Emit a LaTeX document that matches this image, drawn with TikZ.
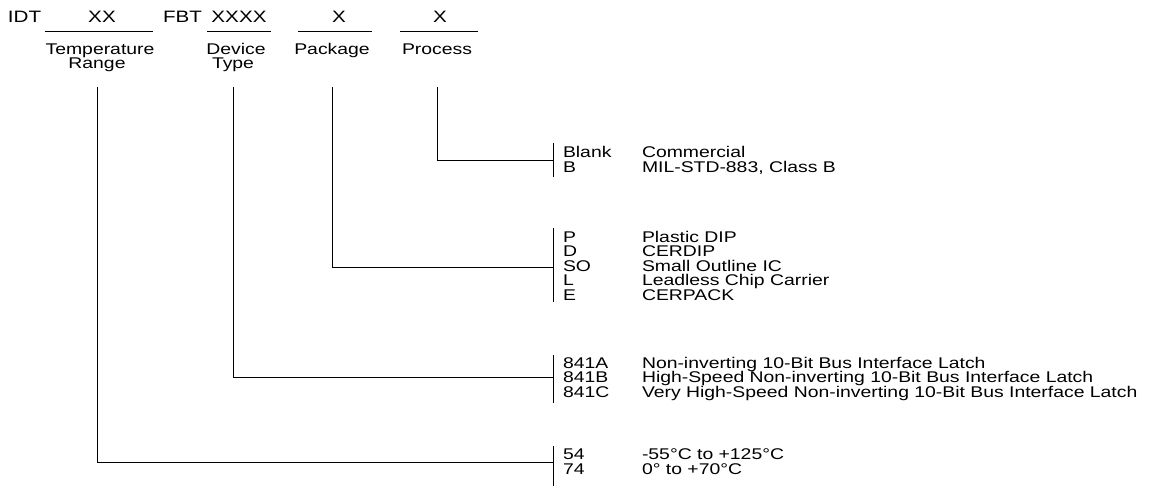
\documentclass[tikz,border=0pt]{standalone}
\usepackage{fontspec}
\setmainfont{Liberation Sans}[FakeStretch=1.25]
\begin{document}
\begin{tikzpicture}[x=1pt,y=-1pt,
  every node/.style={inner sep=0pt,outer sep=0pt},
  lbl/.style={font=\fontsize{15.5}{15.5}\selectfont,anchor=base west},
  clbl/.style={font=\fontsize{15.5}{15.5}\selectfont,anchor=base},
  toplbl/.style={font=\fontsize{16.5}{16.5}\selectfont,anchor=base},
  wire/.style={line width=1pt}]
\useasboundingbox (0,0) rectangle (1155,490);
% top row
\node[toplbl,anchor=base west] (idt) at (8,22) {IDT};
\node[toplbl] (xx) at (102,22) {XX};
\node[toplbl,anchor=base west] (fbt) at (163,22) {FBT};
\node[toplbl] (xxxx) at (239,22) {XXXX};
\node[toplbl] (xp) at (339,22) {X};
\node[toplbl] (xq) at (440,22) {X};
\draw[wire] (45,31) -- (153,31);
\draw[wire] (207,31) -- (271,31);
\draw[wire] (298,31) -- (372,31);
\draw[wire] (400,31) -- (478,31);
% field labels
\node[clbl] (temp1) at (100,54) {Temperature};
\node[clbl] (temp2) at (97,68) {Range};
\node[clbl] (dev1) at (236,54) {Device};
\node[clbl] (dev2) at (233,68) {Type};
\node[clbl] (pkg) at (332,54) {Package};
\node[clbl] (proc) at (437,54) {Process};
% bracket coordinates
\coordinate (ctop) at (0,87);
\coordinate (bP) at (553,160);
\coordinate (bK) at (553,267);
\coordinate (bD) at (553,377);
\coordinate (bT) at (553,462);
% connectors
\draw[wire] (proc.south |- ctop) |- (bP);
\draw[wire] (pkg.south |- ctop) |- (bK);
\draw[wire] (dev2.south |- ctop) |- (bD);
\draw[wire] (temp2.south |- ctop) |- (bT);
% brackets
\draw[wire] (553,143) -- (553,177);
\draw[wire] (553,228) -- (553,302);
\draw[wire] (553,355) -- (553,403);
\draw[wire] (553,446) -- (553,486);
% process
\node[lbl] (c1) at (563,157) {Blank};
\node[lbl] (d1) at (642,157) {Commercial};
\node[lbl] (c2) at (563,172) {B};
\node[lbl] (d2) at (642,172) {MIL-STD-883, Class B};
% package
\node[lbl] (c3) at (563,242) {P};
\node[lbl] (d3) at (642,242) {Plastic DIP};
\node[lbl] (c4) at (563,256.5) {D};
\node[lbl] (d4) at (642,256.5) {CERDIP};
\node[lbl] (c5) at (563,271) {SO};
\node[lbl] (d5) at (642,271) {Small Outline IC};
\node[lbl] (c6) at (563,285.5) {L};
\node[lbl] (d6) at (642,285.5) {Leadless Chip Carrier};
\node[lbl] (c7) at (563,300) {E};
\node[lbl] (d7) at (642,300) {CERPACK};
% device
\node[lbl] (c8) at (563,368) {841A};
\node[lbl] (d8) at (642,368) {Non-inverting 10-Bit Bus Interface Latch};
\node[lbl] (c9) at (563,382.5) {841B};
\node[lbl] (d9) at (642,382.5) {High-Speed Non-inverting 10-Bit Bus Interface Latch};
\node[lbl] (c10) at (563,397) {841C};
\node[lbl] (d10) at (642,397) {Very High-Speed Non-inverting 10-Bit Bus Interface Latch};
% temperature
\node[lbl] (c11) at (563,459) {54};
\node[lbl] (d11) at (642,459) {-55°C to +125°C};
\node[lbl] (c12) at (563,474) {74};
\node[lbl] (d12) at (642,474) {0° to +70°C};
\end{tikzpicture}
\end{document}
